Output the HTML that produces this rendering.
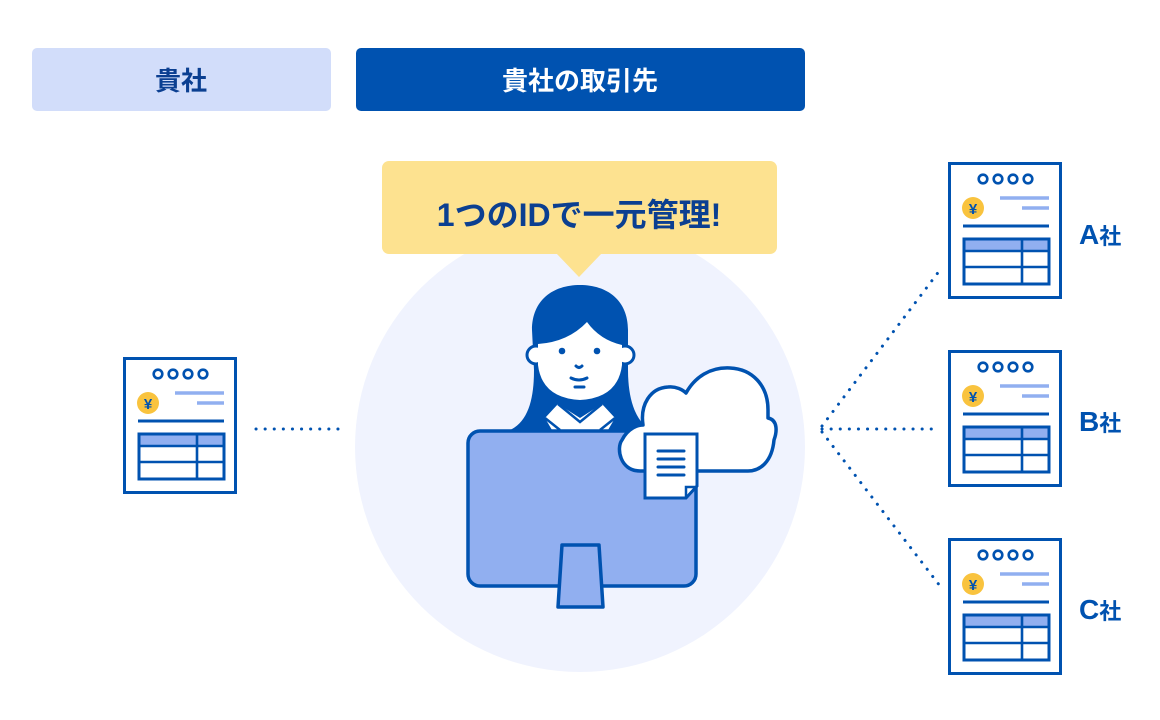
<!DOCTYPE html>
<html><head><meta charset="utf-8"><style>
html,body{margin:0;padding:0;background:#fff;width:1160px;height:720px;overflow:hidden}
svg{display:block}
text{font-family:"Liberation Sans","Noto Sans CJK JP",sans-serif;font-weight:bold}
</style></head><body>
<svg width="1160" height="720" viewBox="0 0 1160 720" xmlns="http://www.w3.org/2000/svg">
<defs>
<g id="doc">
<rect x="1.5" y="1.5" width="111" height="134" fill="#fff" stroke="#0052b0" stroke-width="3"/>
<g fill="none" stroke="#0052b0" stroke-width="2.6">
<circle cx="35" cy="17" r="4.3"/><circle cx="50" cy="17" r="4.3"/><circle cx="65" cy="17" r="4.3"/><circle cx="80" cy="17" r="4.3"/>
</g>
<circle cx="25" cy="46" r="11" fill="#f9c33e"/>
<text x="25" y="52" font-size="15" fill="#0052b0" text-anchor="middle">¥</text>
<line x1="52" y1="36" x2="101" y2="36" stroke="#91aff0" stroke-width="3.5"/>
<line x1="74" y1="46" x2="101" y2="46" stroke="#91aff0" stroke-width="3.5"/>
<line x1="15" y1="64" x2="101" y2="64" stroke="#0052b0" stroke-width="3"/>
<rect x="16" y="77" width="85" height="12" fill="#91aff0"/>
<rect x="16" y="77" width="85" height="45" fill="none" stroke="#0052b0" stroke-width="3"/>
<line x1="16" y1="89" x2="101" y2="89" stroke="#0052b0" stroke-width="2.6"/>
<line x1="16" y1="105" x2="101" y2="105" stroke="#0052b0" stroke-width="2.6"/>
<line x1="74" y1="77" x2="74" y2="122" stroke="#0052b0" stroke-width="2.6"/>
</g>
</defs>

<rect x="32" y="48" width="299" height="63" rx="5" fill="#d2ddfa"/>
<text x="181" y="90" font-size="26" fill="#0b3f91" text-anchor="middle">貴社</text>
<rect x="356" y="48" width="449" height="63" rx="5" fill="#0052b0"/>
<text x="580" y="90" font-size="26" fill="#fff" text-anchor="middle">貴社の取引先</text>

<circle cx="580" cy="447" r="225" fill="#f0f3fe"/>

<rect x="382" y="161" width="395" height="93" rx="7" fill="#fde290"/>
<path d="M556,253 L579,277 L602,253 Z" fill="#fde290"/>
<text x="579" y="226" font-size="32" fill="#0b3f91" text-anchor="middle">1つのIDで一元管理!</text>

<g stroke="#0052b0" stroke-width="3" stroke-linecap="round" stroke-dasharray="0.1 9" fill="none">
<line x1="256" y1="429" x2="345" y2="429"/>
<line x1="822" y1="429" x2="940" y2="429"/>
<line x1="822" y1="426" x2="940" y2="270"/>
<line x1="822" y1="432" x2="940" y2="586"/>
</g>

<use href="#doc" x="123" y="357"/>
<use href="#doc" x="948" y="162"/>
<use href="#doc" x="948" y="350"/>
<use href="#doc" x="948" y="538"/>
<text x="1079" y="244" font-size="28" fill="#0052b0">A<tspan font-size="22">社</tspan></text>
<text x="1079" y="431" font-size="28" fill="#0052b0">B<tspan font-size="22">社</tspan></text>
<text x="1079" y="619" font-size="28" fill="#0052b0">C<tspan font-size="22">社</tspan></text>

<path d="M505,432 C528,425 534,400 534,370 L532,330 C532,300 553,285 580,285 C607,285 628,300 628,330 L628,370 C628,400 636,425 655,432 Z" fill="#0052b0"/>
<circle cx="536" cy="355" r="9" fill="#fff" stroke="#0052b0" stroke-width="3"/>
<circle cx="625" cy="355" r="9" fill="#fff" stroke="#0052b0" stroke-width="3"/>
<path d="M538,344 Q568,342 587,322 Q600,340 622,345 L622,365 Q618,398 580,400 Q542,398 538,365 Z" fill="#fff"/>
<circle cx="562" cy="351" r="3.3" fill="#0052b0"/>
<circle cx="597" cy="351" r="3.3" fill="#0052b0"/>
<path d="M576,366 Q579,369 582,366" stroke="#0052b0" stroke-width="3" fill="none" stroke-linecap="round"/>
<path d="M571,378 Q579,382 587,378" stroke="#0052b0" stroke-width="3" fill="none" stroke-linecap="round"/>
<line x1="575" y1="387" x2="584" y2="387" stroke="#0052b0" stroke-width="3" stroke-linecap="round"/>
<path d="M558,404 L545,418 L552,430 L580,430 L608,430 L615,418 L602,404 L580,418 Z" fill="#fff"/>
<path d="M558,404 L580,422 L602,404 M545,418 L560,430 M615,418 L600,430" stroke="#0052b0" stroke-width="2.5" fill="none"/>

<rect x="468" y="431" width="228" height="155" rx="12" fill="#91aff0" stroke="#0052b0" stroke-width="3.5"/>
<path d="M562,545 L599,545 L603,607 L558,607 Z" fill="#91aff0" stroke="#0052b0" stroke-width="3.5" stroke-linejoin="round"/>

<path d="M640,471 C620,471 616,448 622,440 C628,428 638,425 643,425 C640,405 650,388 668,387 C676,386 683,390 686,393 C695,377 710,367 730,368 C752,369 768,385 768,410 L768,418 C778,420 777,432 774,440 C772,462 760,471 748,471 Z" fill="#fff" stroke="#0052b0" stroke-width="3.5" stroke-linejoin="round"/>
<path d="M645,434 L697,434 L697,486 L686,498 L645,498 Z" fill="#fff" stroke="#0052b0" stroke-width="3"/>
<path d="M686,498 L686,487 L697,487" fill="none" stroke="#0052b0" stroke-width="2.5"/>
<g stroke="#0052b0" stroke-width="3" stroke-linecap="round">
<line x1="658" y1="451" x2="684" y2="451"/><line x1="658" y1="459" x2="684" y2="459"/>
<line x1="658" y1="467" x2="684" y2="467"/><line x1="658" y1="475" x2="684" y2="475"/>
</g>
</svg>
</body></html>
